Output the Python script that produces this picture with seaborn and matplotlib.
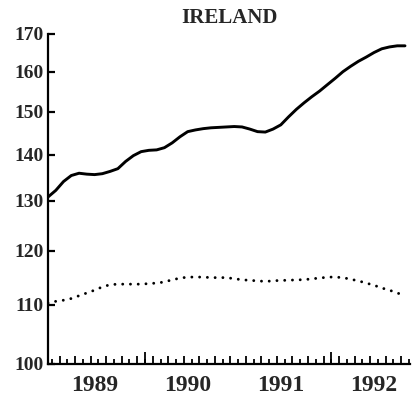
import numpy as np
import pandas as pd
import matplotlib
matplotlib.use("Agg")
import matplotlib.pyplot as plt
from matplotlib.ticker import FixedLocator, NullLocator, FixedFormatter
import seaborn as sns

# ---- data (monthly, Jan 1989 .. Nov 1992) ----
title = "IRELAND"
start_year = 1989
solid_values = [130.8, 132.2, 134.1, 135.4, 135.9, 135.7, 135.6, 135.8, 136.3, 136.9,
                138.5, 139.8, 140.7, 141.0, 141.1, 141.6, 142.7, 144.1, 145.3, 145.7,
                146.0, 146.2, 146.3, 146.4, 146.5, 146.4, 145.9, 145.3, 145.2, 145.9,
                146.9, 148.8, 150.6, 152.2, 153.7, 155.1, 156.7, 158.3, 160.0, 161.4,
                162.7, 163.8, 165.0, 166.0, 166.5, 166.8, 166.8]
dotted_values = [110.3, 110.6, 110.8, 111.1, 111.6, 112.1, 112.6, 113.2, 113.6, 113.7,
                 113.7, 113.7, 113.7, 113.8, 113.9, 114.1, 114.5, 114.8, 115.0, 115.0,
                 115.0, 114.9, 114.9, 114.9, 114.7, 114.5, 114.4, 114.3, 114.2, 114.3,
                 114.4, 114.4, 114.5, 114.5, 114.7, 114.8, 115.0, 115.0, 114.9, 114.6,
                 114.3, 113.9, 113.5, 113.0, 112.6, 112.1, 111.6]
year_labels = ["1989", "1990", "1991", "1992"]
y_ticks = [100, 110, 120, 130, 140, 150, 160, 170]

n = len(solid_values)
t = start_year + np.arange(n) / 12.0
df = pd.DataFrame({
    "t": np.concatenate([t, t]),
    "value": solid_values + dotted_values,
    "series": ["solid"] * n + ["dotted"] * n,
})

sns.set_style("ticks")
plt.rcParams["font.family"] = ["Liberation Serif", "DejaVu Serif"]
plt.rcParams["font.weight"] = "bold"

fig = plt.figure(figsize=(4.15, 4.03), dpi=100)
ax = fig.add_axes([48 / 415, 39 / 403, 362 / 415, 330 / 403])

sns.lineplot(data=df[df.series == "solid"], x="t", y="value", color="black",
             linewidth=2.1, ax=ax, legend=False)
sns.lineplot(data=df[df.series == "dotted"], x="t", y="value", color="black",
             linewidth=2.1, ax=ax, legend=False)
dl = ax.lines[1]
dl.set_linestyle((0, (0.01, 2.65)))
dl.set_dash_capstyle("round")
ax.lines[0].set_solid_capstyle("round")

ax.set_yscale("log")
ax.set_ylim(100, 170)
ax.set_xlim(1989.0, 1992.887)
ax.yaxis.set_major_locator(FixedLocator(y_ticks))
ax.yaxis.set_major_formatter(FixedFormatter([str(v) for v in y_ticks]))
ax.yaxis.set_minor_locator(NullLocator())

# main x axis: month tick marks (odd months taller), no labels
month_ticks = [start_year + (i + 0.5) / 12.0 for i in range(n + 1)]
ax.xaxis.set_major_locator(FixedLocator(month_ticks[1::2]))
ax.xaxis.set_major_formatter(FixedFormatter([""] * len(month_ticks[1::2])))
ax.xaxis.set_minor_locator(FixedLocator(month_ticks))
ax.tick_params(axis="x", which="major", direction="in", length=6, width=1.3, color="black")
ax.tick_params(axis="x", which="minor", direction="in", length=3.5, width=1.3, color="black")
ax.tick_params(axis="y", which="major", direction="in", length=5, width=1.6, pad=3,
               labelsize=14, color="black")

# year labels centred on each year
years = [int(y) for y in year_labels]
sec = ax.secondary_xaxis("bottom")
sec.set_xticks([y + 0.5 for y in years])
sec.set_xticklabels(year_labels)
sec.tick_params(length=0, pad=8, labelsize=17)
sec.spines["bottom"].set_visible(False)

# taller marks at two year starts
sec2 = ax.secondary_xaxis("bottom")
sec2.set_xticks([start_year + 12.5 / 12.0, start_year + 36.5 / 12.0])
sec2.set_xticklabels([])
sec2.tick_params(direction="in", length=9, width=1.3, color="black")
sec2.spines["bottom"].set_visible(False)

for s in ["top", "right"]:
    ax.spines[s].set_visible(False)
for s in ["left", "bottom"]:
    ax.spines[s].set_linewidth(1.6)
    ax.spines[s].set_color("black")

ax.set_xlabel("")
ax.set_ylabel("")
ax.set_title(title, fontsize=15, fontweight="bold", pad=8)

fig.savefig("out.png", dpi=100)
